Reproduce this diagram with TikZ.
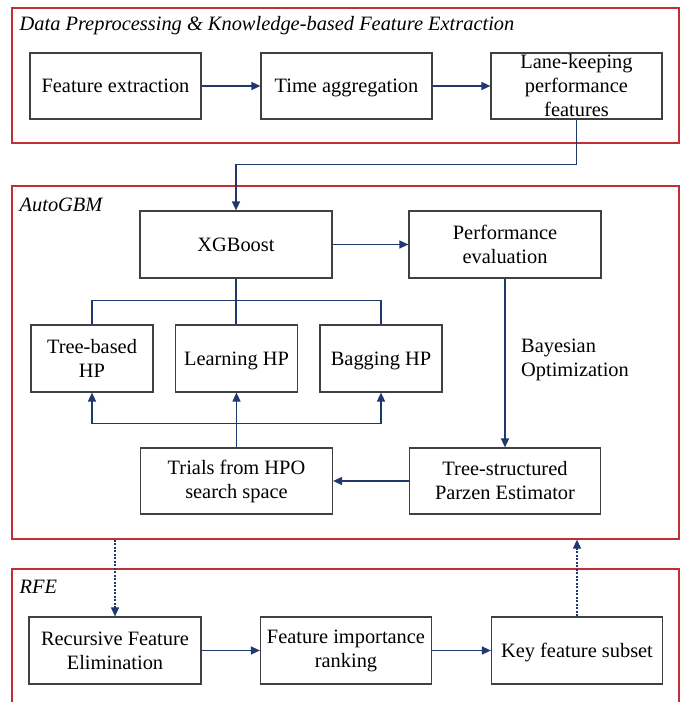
\documentclass[tikz,border=0pt]{standalone}
\usepackage{fontspec}
\setmainfont{Liberation Serif}
\usetikzlibrary{arrows.meta,positioning}
\definecolor{navy}{RGB}{31,56,110}
\definecolor{frame}{RGB}{192,48,52}
\definecolor{edge}{RGB}{64,64,64}

\begin{document}
\begin{tikzpicture}[x=1pt,y=1pt,
    font=\fontsize{20.4}{24}\selectfont,
    >={Triangle[length=9pt,width=8pt]},
    box/.style={draw=edge,line width=1.2pt,minimum width=171pt,minimum height=66pt,align=center,inner sep=1pt},
    one/.style={text depth=0pt},
    wide/.style={box,minimum width=192pt,minimum height=67pt},
    hp/.style={box,minimum width=122pt,minimum height=67pt},
    panel/.style={draw=frame,line width=1.3pt,minimum width=667pt,inner sep=0pt},
    title/.style={anchor=base west,inner sep=0pt,font=\fontsize{20.4}{24}\selectfont\itshape},
    link/.style={draw=navy,line width=1.5pt},
    dots/.style={draw=navy,line width=1.2pt,dash pattern=on 2pt off 1.5pt},
    node distance=231pt]
  \useasboundingbox (0,0) rectangle (691,702);
  \clip (0,0) rectangle (691,702);

  % panels
  \node[panel,minimum height=135pt] (P1) at (345.5,626.5) {};
  \node[panel,minimum height=353pt] (P2) at (345.5,339.5) {};
  \node[panel,minimum height=143pt] (P3) at (345.5,61.5) {};
  \node[title] (T1) at (19.5,671) {Data Preprocessing \& Knowledge-based Feature Extraction};
  \node[title] (T2) at (19.5,490) {AutoGBM};
  \node[title] (T3) at (19.5,108) {RFE};

  % data preprocessing
  \node[box,one] (1) at (115.5,616) {Feature extraction};
  \node[box,one,right of=1] (2) {Time aggregation};
  \node[box,right of=2,xshift=-1pt] (3) {Lane-keeping\\performance\\features};

  % autogbm
  \node[wide,one] (4) at (236,457.5) {XGBoost};
  \node[wide,right of=4,xshift=38pt] (5) {Performance\\evaluation};
  \node[hp,one] (7) at (236.5,343.5) {Learning HP};
  \node[hp,left of=7,node distance=144.5pt] (6) {Tree-based\\HP};
  \node[hp,one,right of=7,node distance=144.5pt] (8) {Bagging HP};
  \node[wide,minimum height=66pt,below of=7,node distance=122.5pt] (9) {Trials from HPO\\search space};
  \node[wide,minimum height=66pt,minimum width=191pt,right of=9,node distance=268.5pt] (10) {Tree-structured\\Parzen Estimator};
  \node[align=left,anchor=west,inner sep=0pt] (bo) at (521,342) {Bayesian\\Optimization};

  % rfe
  \node[box,minimum width=172pt,minimum height=67pt] (11) at (115,51.5) {Recursive Feature\\Elimination};
  \node[box,minimum height=67pt,right of=11] (12) {Feature importance\\ranking};
  \node[box,one,minimum height=67pt,right of=12] (13) {Key feature subset};

  \draw[link,->] (1) -- (2);
  \draw[link,->] (2) -- (3);
  \draw[link,->] (3.south) -- ++(0,-45) -| (4.north);
  \draw[link,->] (4) -- (5);
  \draw[link] (4) -- (4 |- 7.north);
  \draw[link] (6.north) -- ++(0,24) -| (8.north);
  \draw[link,<->] (6.south) -- ++(0,-31) -| (8.south);
  \draw[link,->] (9) -- (7);
  \draw[link,->] (5) -- (10);
  \draw[link,->] (10) -- (9);
  \draw[link,->] (11) -- (12);
  \draw[link,->] (12) -- (13);
  \draw[dots,->] (P2.south -| 11) -- (11);
  \draw[dots,->] (13) -- (P2.south -| 13);
\end{tikzpicture}
\end{document}
